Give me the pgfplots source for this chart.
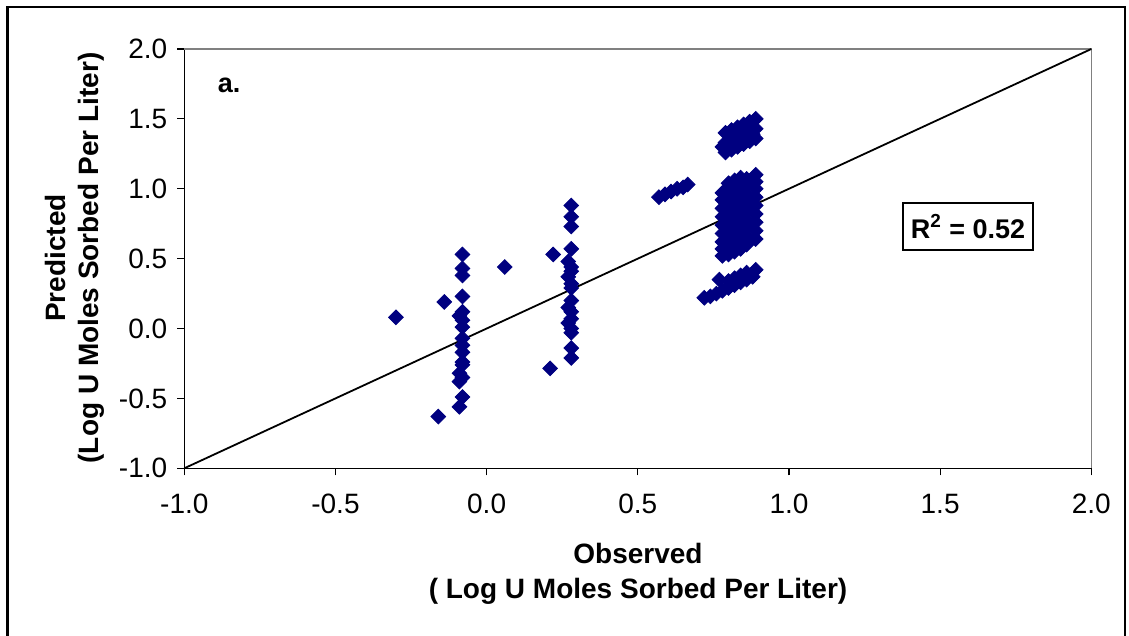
\documentclass[border=0pt]{standalone}
\usepackage{fontspec}
\setmainfont{Liberation Sans}
\usepackage{pgfplots}
\pgfplotsset{compat=1.18}
\definecolor{navy}{RGB}{0,0,128}
\definecolor{plotgray}{RGB}{128,128,128}

\pgfplotstableread{
x y
-0.08 0.53
-0.08 0.43
-0.08 0.38
-0.08 0.23
-0.08 0.12
-0.09 0.09
-0.08 0.06
-0.08 0.01
-0.08 -0.07
-0.08 -0.12
-0.08 -0.17
-0.08 -0.24
-0.08 -0.26
-0.09 -0.32
-0.08 -0.35
-0.09 -0.38
-0.08 -0.49
-0.09 -0.56
-0.30 0.08
-0.14 0.19
-0.16 -0.63
0.06 0.44
0.22 0.53
0.21 -0.285
0.28 0.88
0.28 0.80
0.28 0.73
0.28 0.57
0.27 0.48
0.28 0.44
0.28 0.41
0.27 0.37
0.28 0.32
0.28 0.29
0.28 0.20
0.27 0.15
0.28 0.12
0.28 0.07
0.27 0.04
0.28 0.00
0.28 -0.03
0.28 -0.14
0.28 -0.21
0.57 0.94
0.59 0.96
0.61 0.98
0.63 1.00
0.65 1.01
0.665 1.03
0.79 1.26
0.79 1.33
0.79 1.40
0.81 1.28
0.81 1.35
0.81 1.42
0.83 1.30
0.83 1.37
0.83 1.44
0.85 1.32
0.85 1.39
0.85 1.46
0.87 1.34
0.87 1.41
0.87 1.48
0.89 1.36
0.89 1.43
0.89 1.50
0.78 1.30
0.80 1.31
0.82 1.33
0.84 1.35
0.86 1.37
0.88 1.39
0.78 0.52
0.78 0.57
0.78 0.62
0.78 0.68
0.78 0.74
0.78 0.80
0.78 0.86
0.78 0.92
0.78 0.97
0.80 0.53
0.80 0.59
0.80 0.65
0.80 0.71
0.80 0.77
0.80 0.83
0.80 0.89
0.80 0.95
0.80 1.00
0.80 1.04
0.82 0.55
0.82 0.61
0.82 0.67
0.82 0.73
0.82 0.79
0.82 0.85
0.82 0.91
0.82 0.97
0.82 1.02
0.82 1.06
0.84 0.57
0.84 0.63
0.84 0.69
0.84 0.75
0.84 0.81
0.84 0.87
0.84 0.93
0.84 0.99
0.84 1.04
0.84 1.08
0.86 0.60
0.86 0.66
0.86 0.72
0.86 0.78
0.86 0.84
0.86 0.90
0.86 0.96
0.86 1.02
0.86 1.07
0.89 0.64
0.89 0.70
0.89 0.76
0.89 0.82
0.89 0.88
0.89 0.94
0.89 1.00
0.89 1.05
0.89 1.10
0.72 0.22
0.74 0.23
0.76 0.25
0.78 0.27
0.80 0.29
0.82 0.31
0.84 0.33
0.86 0.35
0.88 0.37
0.77 0.35
0.80 0.34
0.82 0.36
0.84 0.38
0.86 0.40
0.89 0.42
}\obsdata

\begin{document}
\begin{tikzpicture}
\path[use as bounding box] (0,0) rectangle (564.5pt,318pt);
\draw[line width=1.2pt] (3.7pt,-1pt) -- (3.7pt,314.6pt) -- (562.6pt,314.6pt) -- (562.6pt,-1pt);
\begin{axis}[
  at={(92.15pt,83.85pt)}, anchor=south west,
  scale only axis, width=453.5pt, height=209.65pt,
  xmin=-1, xmax=2, ymin=-1, ymax=2,
  axis lines*=left,
  axis line style={black, line width=0.7pt},
  xtick={-1,-0.5,0,0.5,1,1.5,2},
  ytick={-1,-0.5,0,0.5,1,1.5,2},
  xticklabels={-1.0,-0.5,0.0,0.5,1.0,1.5,2.0},
  yticklabels={-1.0,-0.5,0.0,0.5,1.0,1.5,2.0},
  tick align=outside, major tick length=3.5pt,
  tick style={black, line width=0.6pt},
  tick label style={font=\fontsize{14}{16}\selectfont},
  xticklabel style={yshift=-6pt},
  yticklabel style={xshift=-1.5pt},
  clip=false,
]
\draw[plotgray, line width=0.7pt] (rel axis cs:0,1) -- (rel axis cs:1,1) -- (rel axis cs:1,0);
\addplot[black, line width=0.9pt] coordinates {(-1,-1) (2,2)};
\addplot[only marks, mark=square*, mark size=2.6pt,
  mark options={fill=navy, draw=navy, rotate=45}] table[x=x, y=y] {\obsdata};
\node[font=\fontsize{13.5}{15}\selectfont\bfseries] at (axis cs:-0.852,1.742) {a.};
\node[draw=black, line width=0.9pt, minimum width=65pt, minimum height=23.5pt,
  inner sep=2pt, font=\fontsize{13.5}{16}\selectfont\bfseries]
  at (axis cs:1.592,0.730) {R\textsuperscript{2} = 0.52};
\end{axis}
\node[rotate=90, font=\fontsize{14}{16}\selectfont\bfseries] at (27.5pt,189pt) {Predicted};
\node[rotate=90, font=\fontsize{14}{16}\selectfont\bfseries] at (45.5pt,189pt) {(Log U Moles Sorbed Per Liter)};
\node[font=\fontsize{14}{16}\selectfont\bfseries] at (319pt,41.5pt) {Observed};
\node[font=\fontsize{14}{16}\selectfont\bfseries] at (319pt,22.5pt) {( Log U Moles Sorbed Per Liter)};
\end{tikzpicture}
\end{document}
